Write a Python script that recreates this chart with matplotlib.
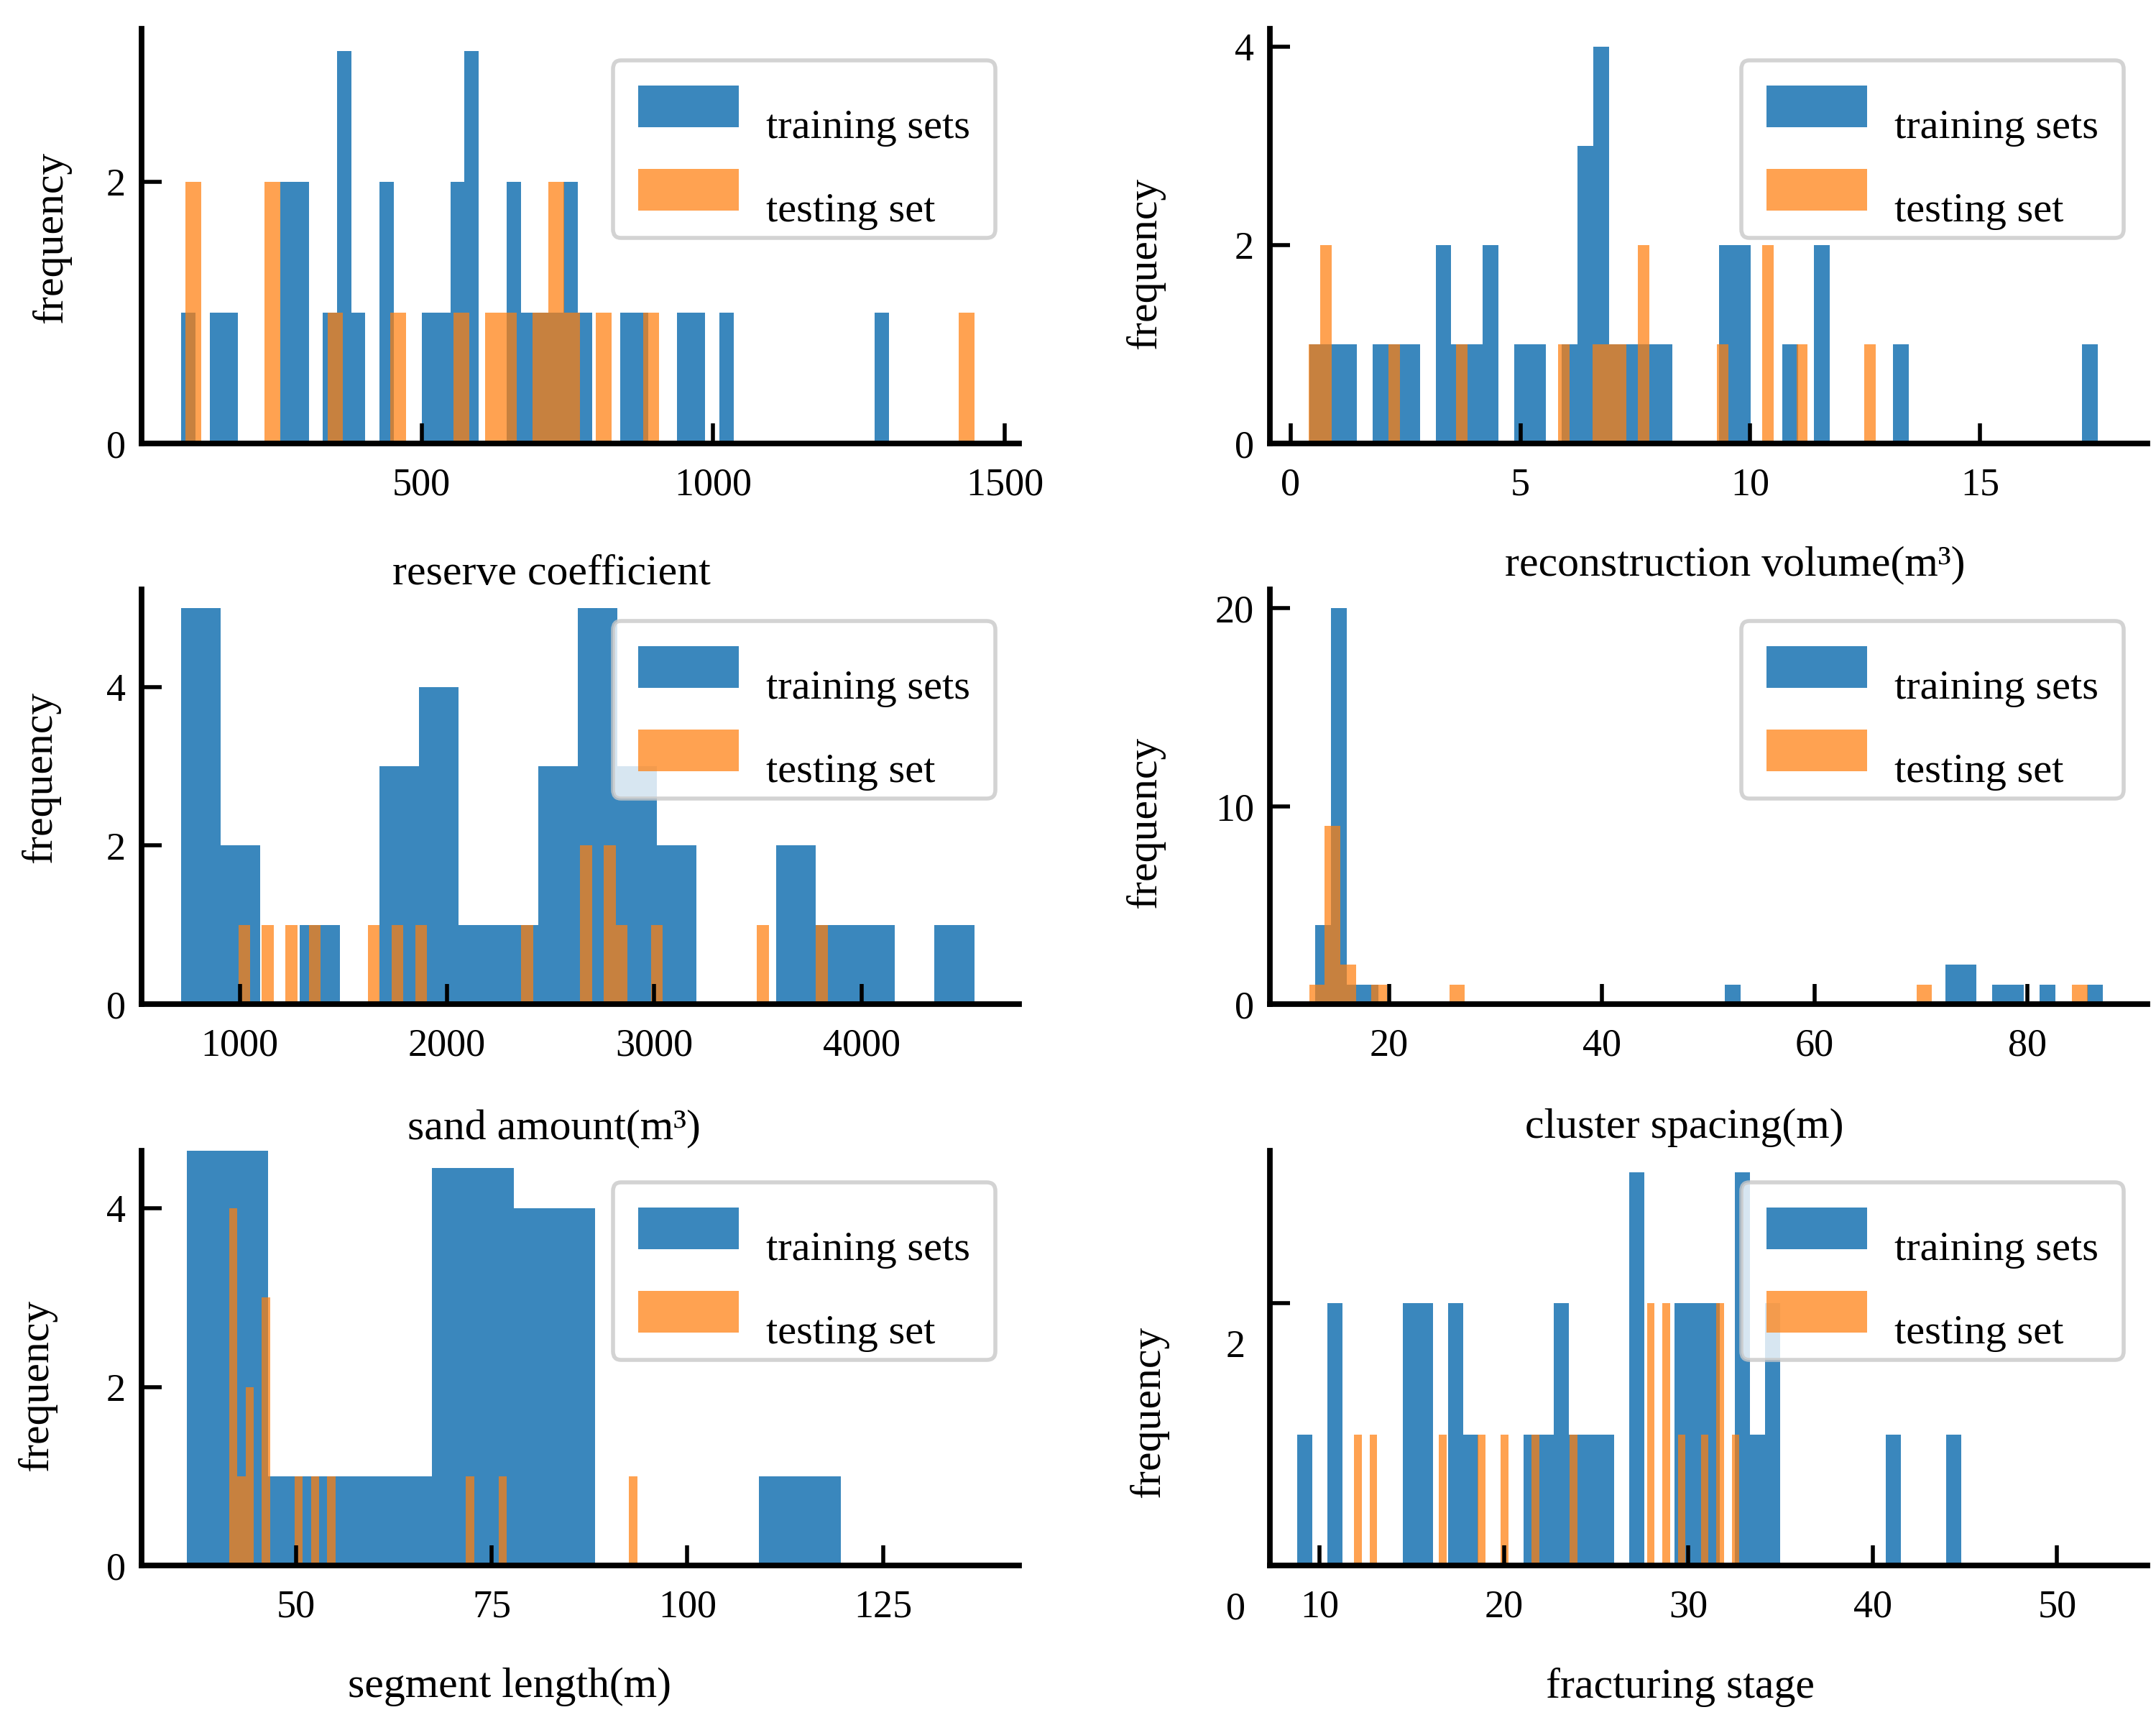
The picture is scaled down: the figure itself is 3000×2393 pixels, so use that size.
import numpy as np
import matplotlib
matplotlib.use("Agg")
import matplotlib.pyplot as plt
from matplotlib.transforms import ScaledTranslation

plt.rcParams['font.family'] = ['Liberation Serif', 'DejaVu Serif']

# bin counts (training: blue, testing: orange)
# each series: counts per bin, and the (min, max) range the bins span

reserve_train = [1, 0, 1, 1, 0, 0, 0, 2, 2, 0,
                 1, 3, 1, 0, 2, 0, 0, 1, 1, 2,
                 3, 0, 0, 2, 1, 1, 1, 2, 1, 0,
                 0, 1, 1, 0, 0, 1, 1, 0, 1, 0,
                 0, 0, 0, 0, 0, 0, 0, 0, 0, 1]
reserve_train_range = (88, 1302)
reserve_test = [2, 0, 0, 0, 0, 2, 0, 0, 0, 1,
                0, 0, 0, 1, 0, 0, 0, 1, 0, 1,
                1, 0, 1, 2, 1, 0, 1, 0, 0, 1,
                0, 0, 0, 0, 0, 0, 0, 0, 0, 0,
                0, 0, 0, 0, 0, 0, 0, 0, 0, 1]
reserve_test_range = (95, 1448)

volume_train = [1, 1, 1, 0, 1, 1, 1, 0, 2, 1,
                1, 2, 0, 1, 1, 0, 1, 3, 4, 1,
                1, 1, 1, 0, 0, 0, 2, 2, 0, 0,
                1, 0, 2, 0, 0, 0, 0, 1, 0, 0,
                0, 0, 0, 0, 0, 0, 0, 0, 0, 1]
volume_train_range = (0.41, 17.56)
volume_test = [1, 2, 0, 0, 0, 0, 0, 1, 0, 0,
               0, 0, 0, 1, 0, 0, 0, 0, 0, 0,
               0, 0, 1, 0, 0, 1, 1, 1, 0, 2,
               0, 0, 0, 0, 0, 0, 1, 0, 0, 0,
               2, 0, 0, 1, 0, 0, 0, 0, 0, 1]
volume_test_range = (0.40, 12.73)

sand_train = [5, 2, 0, 1, 0, 3, 4, 1, 1, 3, 5, 3, 2, 0, 0, 2, 1, 1, 0, 1]
sand_train_range = (717, 4543)
sand_test = [1, 0, 1, 0, 1, 0, 1, 0, 0, 0,
             0, 1, 0, 1, 0, 1, 0, 0, 0, 0,
             0, 0, 0, 0, 1, 0, 0, 0, 0, 2,
             0, 2, 1, 0, 0, 1, 0, 0, 0, 0,
             0, 0, 0, 0, 1, 0, 0, 0, 0, 1]
sand_test_range = (993, 3837)

spacing_train = [4, 20, 1, 1, 0, 0, 0, 0, 0, 0,
                 0, 0, 0, 0, 0, 0, 0, 0, 0, 0,
                 0, 0, 0, 0, 0, 0, 1, 0, 0, 0,
                 0, 0, 0, 0, 0, 0, 0, 0, 0, 0,
                 2, 2, 0, 1, 1, 0, 1, 0, 0, 1]
spacing_train_range = (13.05, 87.1)
spacing_test = [1, 9, 2, 0, 1, 0, 0, 0, 0, 1,
                0, 0, 0, 0, 0, 0, 0, 0, 0, 0,
                0, 0, 0, 0, 0, 0, 0, 0, 0, 0,
                0, 0, 0, 0, 0, 0, 0, 0, 0, 1,
                0, 0, 0, 0, 0, 0, 0, 0, 0, 1]
spacing_test_range = (12.5, 85.7)

segment_train = [5, 1, 1, 4.45, 4, 0, 0, 1]
segment_train_range = (36.05, 119.6)
segment_test = [4, 1, 2, 0, 3, 0, 0, 0, 1, 0,
                1, 0, 1, 0, 0, 0, 0, 0, 0, 0,
                0, 0, 0, 0, 0, 0, 0, 0, 0, 1,
                0, 0, 0, 1, 0, 0, 0, 0, 0, 0,
                0, 0, 0, 0, 0, 0, 0, 0, 0, 1]
segment_test_range = (41.5, 93.6)

stage_train = [1, 0, 2, 0, 0, 0, 0, 2, 2, 0,
               2, 1, 0, 0, 0, 1, 1, 2, 1, 1,
               1, 0, 3, 0, 0, 2, 2, 2, 0, 3,
               1, 2, 0, 0, 0, 0, 0, 0, 0, 1,
               0, 0, 0, 1]
stage_train_range = (8.8, 44.8)
stage_test = [1, 0, 1, 0, 0, 0, 0, 0, 0, 0,
              0, 1, 0, 0, 0, 0, 1, 0, 0, 1,
              0, 0, 0, 1, 0, 0, 0, 0, 1, 0,
              0, 0, 0, 0, 0, 0, 0, 0, 2, 0,
              2, 0, 1, 0, 0, 1, 0, 2, 0, 1]
stage_test_range = (11.87, 32.77)

xlabels = ['reserve coefficient', 'reconstruction volume(m³)',
           'sand amount(m³)', 'cluster spacing(m)',
           'segment length(m)', 'fracturing stage']
xticks = [[500, 1000, 1500], [0, 5, 10, 15], [1000, 2000, 3000, 4000],
          [20, 40, 60, 80], [50, 75, 100, 125], [10, 20, 30, 40, 50]]
yticks = [[0, 2], [0, 2, 4], [0, 2, 4], [0, 10, 20], [0, 2, 4], [0, 2]]

series = [
    (reserve_train, reserve_train_range, reserve_test, reserve_test_range),
    (volume_train, volume_train_range, volume_test, volume_test_range),
    (sand_train, sand_train_range, sand_test, sand_test_range),
    (spacing_train, spacing_train_range, spacing_test, spacing_test_range),
    (segment_train, segment_train_range, segment_test, segment_test_range),
    (stage_train, stage_train_range, stage_test, stage_test_range),
]

# layout (figure fractions / axes coords)
xlims = [(20, 1525), (-0.45, 18.64), (527, 4760), (8.8, 91.3), (30.3, 142.4), (7.3, 54.9)]
ylims = [(0, 3.17), (0, 4.18), (0, 5.23), (0, 20.95), (0, 4.64), (0, 3.16)]
col_left = [0.0657, 0.589]
row_bottom = [0.7422, 0.4162, 0.0898]
ax_w, ax_h = 0.407, 0.241
xlabel_pos = [(0.467, -0.315), (0.530, -0.293), (0.470, -0.302),
              (0.472, -0.298), (0.419, -0.293), (0.468, -0.293)]
ylabel_pos = [(-0.103, 0.497), (-0.142, 0.435), (-0.115, 0.548),
              (-0.142, 0.438), (-0.119, 0.434), (-0.138, 0.370)]

blue = '#1f77b4'
orange = '#ff7f0e'

fig = plt.figure(figsize=(15, 11.965), dpi=200)

for i in range(6):
    r, c = divmod(i, 2)
    ax = fig.add_axes([col_left[c], row_bottom[r], ax_w, ax_h])
    train, train_rng, test, test_rng = series[i]

    e1 = np.linspace(train_rng[0], train_rng[1], len(train) + 1)
    e2 = np.linspace(test_rng[0], test_rng[1], len(test) + 1)
    ax.hist(e1[:-1], bins=e1, weights=train, color=blue, alpha=0.88,
            label='training sets')
    ax.hist(e2[:-1], bins=e2, weights=test, color=orange, alpha=0.72,
            label='testing set')

    ax.set_xlim(*xlims[i])
    ax.set_ylim(*ylims[i])
    ax.set_xticks(xticks[i])
    ax.set_yticks(yticks[i])

    for side in ['top', 'right']:
        ax.spines[side].set_visible(False)
    for side in ['left', 'bottom']:
        ax.spines[side].set_linewidth(2.8)
        ax.spines[side].set_color('black')
    ax.tick_params(direction='in', length=10, width=2, labelsize=19.5, colors='black')
    ax.tick_params(axis='x', pad=12)
    ax.tick_params(axis='y', pad=8)

    ax.set_xlabel(xlabels[i], fontsize=21.5)
    ax.xaxis.set_label_coords(*xlabel_pos[i])
    ax.xaxis.label.set_va('center')
    ax.set_ylabel('frequency', fontsize=21.5)
    ax.yaxis.set_label_coords(*ylabel_pos[i])
    ax.yaxis.label.set_va('center')

    leg = ax.legend(loc='upper left', bbox_to_anchor=(0.537, 0.924),
                    borderaxespad=0, fontsize=21, handlelength=2.4,
                    handleheight=1.15, handletextpad=0.65, labelspacing=0.95,
                    borderpad=0.6, fancybox=True, framealpha=0.8,
                    edgecolor='#c8c8c8')
    leg.get_frame().set_linewidth(2)
    # legend text sits a little below the colour boxes in the original
    for t in leg.get_texts():
        t.set_y(-24)

    if i == 5:
        # the scanned y labels of this panel sit lower than their ticks
        shift = ScaledTranslation(-0.06, -20 / 72, fig.dpi_scale_trans)
        for lbl in ax.get_yticklabels():
            lbl.set_transform(lbl.get_transform() + shift)

fig.savefig('out.png', dpi=200, facecolor='white')
